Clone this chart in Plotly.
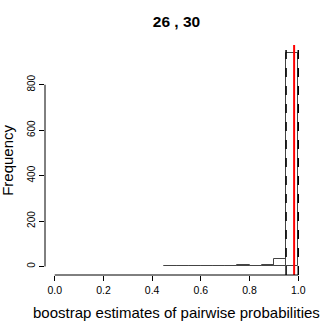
import plotly.graph_objects as go

# histogram of bootstrap estimates, bins of width 0.05
bin_left = [0.45, 0.50, 0.55, 0.60, 0.65, 0.70, 0.75, 0.80, 0.85, 0.90, 0.95]
counts = [2, 2, 2, 2, 2, 3, 5, 4, 7, 31, 940]
bin_width = 0.05
quantile_lines = [0.95, 1.0]
observed = 0.983
x_ticks = [0.0, 0.2, 0.4, 0.6, 0.8, 1.0]
y_ticks = [0, 200, 400, 600, 800]

font = "Liberation Sans, Arial, sans-serif"

fig = go.Figure()
fig.add_trace(go.Bar(
    x=[b + bin_width / 2 for b in bin_left], y=counts, width=bin_width,
    marker=dict(color="rgba(0,0,0,0)", line=dict(color="#444", width=1)),
    showlegend=False, hoverinfo="skip",
))

for q in quantile_lines:
    fig.add_shape(type="line", xref="x", yref="paper", x0=q, x1=q, y0=0, y1=0.98,
                  line=dict(color="black", width=1.5, dash="dash"))
fig.add_shape(type="line", xref="x", yref="paper", x0=observed, x1=observed, y0=0, y1=1,
              line=dict(color="red", width=2))

# R-style axis lines that only span the ticks
fig.add_shape(type="line", xref="x", yref="paper", x0=x_ticks[0], x1=x_ticks[-1], y0=0, y1=0,
              line=dict(color="black", width=1))
fig.add_shape(type="line", xref="paper", yref="y", x0=0, x1=0, y0=y_ticks[0], y1=y_ticks[-1],
              line=dict(color="black", width=1))

fig.update_layout(
    width=332, height=332,
    margin=dict(l=45, r=24, t=45, b=57, autoexpand=False),
    plot_bgcolor="white", paper_bgcolor="white",
    font=dict(family=font, color="black"),
    bargap=0,
    title=dict(text="<b>26 , 30</b>", xref="paper", x=0.5, xanchor="center",
               y=0.934, yanchor="middle", font=dict(size=15.5, family=font)),
    xaxis=dict(range=[-0.04, 1.04], tickvals=x_ticks, ticktext=[f"{v:.1f}" for v in x_ticks],
               ticks="outside", ticklen=5, tickcolor="black", showline=False, automargin=False,
               showgrid=False, zeroline=False, tickfont=dict(size=10.5)),
    yaxis=dict(range=[-37.5, 975], tickvals=y_ticks, ticks="outside", ticklen=5,
               tickcolor="black", showline=False, showgrid=False, zeroline=False, automargin=False,
               tickangle=-90, tickfont=dict(size=10)),
    annotations=[
        dict(text="boostrap estimates of pairwise probabilities", xref="paper", yref="paper",
             x=0.5, y=-0.165, xanchor="center", yanchor="middle", showarrow=False,
             font=dict(size=15)),
        dict(text="Frequency", xref="paper", yref="paper", x=-0.145, y=0.5,
             xanchor="center", yanchor="middle", textangle=-90, showarrow=False,
             font=dict(size=15)),
    ],
)

# drop the default page margin so the figure sits at the window origin
fig.write_html("out.html", config={"displayModeBar": False},
               post_script="document.body.style.margin='0';")
